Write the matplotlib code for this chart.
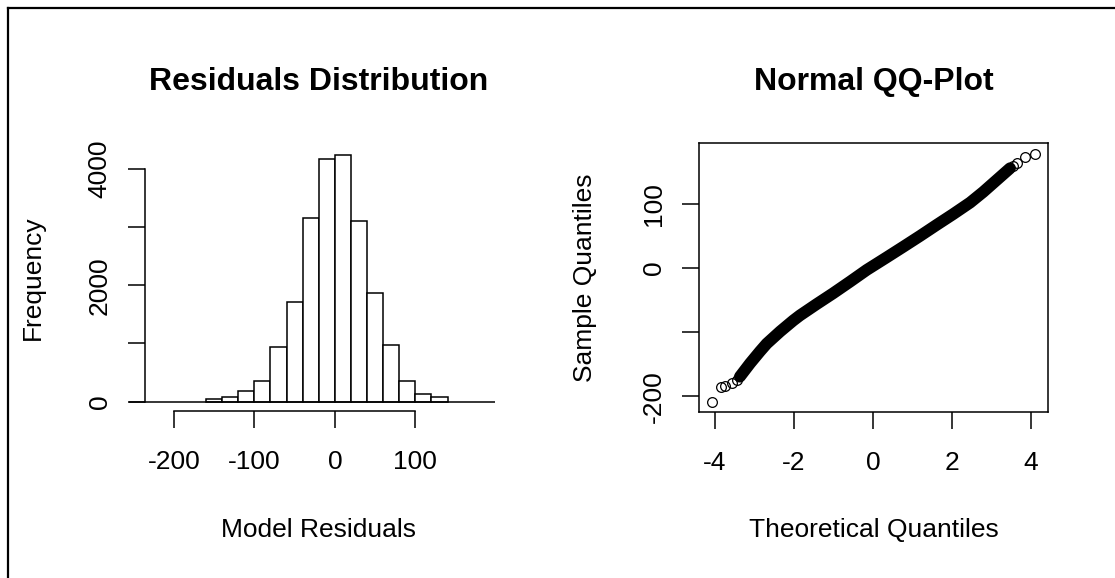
import matplotlib
matplotlib.use("Agg")
import matplotlib.pyplot as plt
import numpy as np
from matplotlib.lines import Line2D

plt.rcParams.update({
    "font.family": ["Liberation Sans", "DejaVu Sans"],
    "font.size": 19,
    "axes.linewidth": 1.1,
    "axes.unicode_minus": False,
    "xtick.major.width": 1.1, "ytick.major.width": 1.1,
    "xtick.major.size": 12, "ytick.major.size": 12,
    "xtick.direction": "out", "ytick.direction": "out",
    "xtick.major.pad": 16, "ytick.major.pad": 12,
})

# ---- histogram of model residuals ----
BIN_EDGES = [-160, -140, -120, -100, -80, -60, -40, -20, 0, 20, 40, 60, 80, 100, 120, 140]
BIN_COUNTS = [38, 75, 178, 358, 933, 1705, 3159, 4166, 4235, 3107, 1860, 973, 350, 135, 78]
HIST_XTICKS = [-200, -100, 0, 100]
HIST_YTICKS = [0, 1000, 2000, 3000, 4000]
HIST_YTICKLABELS = ["0", "", "2000", "", "4000"]

# ---- normal QQ plot ----
# dense part (drawn as a thick band) and the separate tail points
QQ_BODY_THEO = [-3.37, -3.11, -2.86, -2.69, -2.35, -2.02, -1.85, -1.43, -1.01,
                -0.58, -0.16, 0.35, 0.77, 1.19, 1.61, 2.03, 2.46, 2.79, 3.13, 3.47]
QQ_BODY_SAMPLE = [-169.5, -148.6, -130.0, -118.0, -99.0, -82.0, -74.0, -56.5, -39.5,
                  -21.3, -3.1, 16.7, 33.2, 49.9, 67.1, 84.0, 102.0, 118.5, 137.0, 155.5]
QQ_TAIL_THEO = [-4.08, -3.86, -3.75, -3.58, -3.45, 3.55, 3.64, 3.85, 4.10]
QQ_TAIL_SAMPLE = [-208.5, -185.1, -183.5, -178.9, -174.0, 158.5, 163.3, 173.6, 177.8]
QQ_XTICKS = [-4, -2, 0, 2, 4]
QQ_YTICKS = [-200, -100, 0, 100]
QQ_YTICKLABELS = ["-200", "", "0", "100"]

W, H = 1115, 578


def fx(px):
    return px / W


def fy(py):
    return 1 - py / H


def box(x0, y0, x1, y1):
    # pixel box (top-left, bottom-right) -> figure rect
    return [fx(x0), fy(y1), (x1 - x0) / W, (y1 - y0) / H]


def main():
    fig = plt.figure(figsize=(W / 100, H / 100), dpi=100)

    # ---------- left: histogram ----------
    ax1 = fig.add_axes(box(128.7, 145, 495, 411))
    ax1.set_xlim(-256.0, 198.9)
    ax1.set_ylim(-159.7, 4407)
    ax1.bar(BIN_EDGES[:-1], BIN_COUNTS, width=np.diff(BIN_EDGES), align="edge",
            facecolor="white", edgecolor="black", linewidth=1.1)
    ax1.axhline(0, color="black", linewidth=1.1)
    for s in ("top", "right"):
        ax1.spines[s].set_visible(False)
    ax1.spines["left"].set_position(("data", -235.8))
    ax1.spines["left"].set_bounds(0, 4000)
    ax1.spines["bottom"].set_bounds(-200, 100)
    ax1.set_xticks(HIST_XTICKS)
    ax1.set_yticks(HIST_YTICKS, HIST_YTICKLABELS, rotation=90, va="center")
    ax1.patch.set_visible(False)

    # ---------- right: QQ plot ----------
    ax2 = fig.add_axes(box(699.3, 143.3, 1047.7, 411.7))
    ax2.set_xlim(-4.397, 4.423)
    ax2.set_ylim(-224.1, 194.4)
    ax2.plot(QQ_BODY_THEO, QQ_BODY_SAMPLE, color="black", linewidth=8.5,
             solid_capstyle="round", solid_joinstyle="round")
    ax2.plot(QQ_TAIL_THEO, QQ_TAIL_SAMPLE, linestyle="none", marker="o",
             markersize=7, markerfacecolor="none", markeredgecolor="black",
             markeredgewidth=0.9)
    ax2.set_xticks(QQ_XTICKS)
    ax2.set_yticks(QQ_YTICKS, QQ_YTICKLABELS, rotation=90, va="center")

    # ---------- titles and axis labels ----------
    fig.text(fx(318.5), fy(90), "Residuals Distribution", ha="center",
             va="baseline", fontsize=23, fontweight="bold")
    fig.text(fx(873.5), fy(90), "Normal QQ-Plot", ha="center",
             va="baseline", fontsize=23, fontweight="bold")
    fig.text(fx(318.5), fy(536.7), "Model Residuals", ha="center", va="baseline")
    fig.text(fx(873.5), fy(536.7), "Theoretical Quantiles", ha="center", va="baseline")
    fig.text(fx(33), fy(278), "Frequency", rotation=90, ha="center", va="center")
    fig.text(fx(585), fy(278), "Sample Quantiles", rotation=90, ha="center", va="center")

    # window border (top and left edges only)
    fig.add_artist(Line2D([fx(8), fx(8)], [0, fy(8)], transform=fig.transFigure,
                          color="black", linewidth=1.6))
    fig.add_artist(Line2D([fx(8), 1], [fy(8), fy(8)], transform=fig.transFigure,
                          color="black", linewidth=1.6))

    fig.savefig("out.png", dpi=100)
    plt.close(fig)


if __name__ == "__main__":
    main()
